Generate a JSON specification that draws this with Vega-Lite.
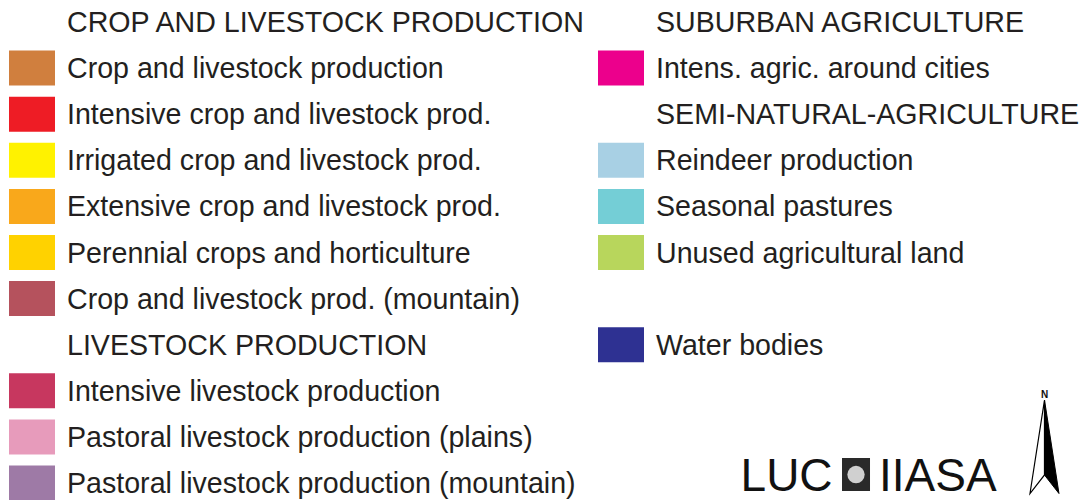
{
  "$schema": "https://vega.github.io/schema/vega-lite/v6.json",
  "width": 1090,
  "height": 500,
  "padding": 0,
  "autosize": {"type": "none"},
  "background": "white",
  "config": {"view": {"stroke": null}},
  "datasets": {
    "legend": [
      {"col": 0, "row": 0, "label": "CROP AND LIVESTOCK PRODUCTION", "color": null},
      {"col": 0, "row": 1, "label": "Crop and livestock production", "color": "#d07f3e"},
      {"col": 0, "row": 2, "label": "Intensive crop and livestock prod.", "color": "#ee1c25"},
      {"col": 0, "row": 3, "label": "Irrigated crop and livestock prod.", "color": "#fff200"},
      {"col": 0, "row": 4, "label": "Extensive crop and livestock prod.", "color": "#f9a81b"},
      {"col": 0, "row": 5, "label": "Perennial crops and horticulture", "color": "#ffd200"},
      {"col": 0, "row": 6, "label": "Crop and livestock prod. (mountain)", "color": "#b5525d"},
      {"col": 0, "row": 7, "label": "LIVESTOCK PRODUCTION", "color": null},
      {"col": 0, "row": 8, "label": "Intensive livestock production", "color": "#c7375f"},
      {"col": 0, "row": 9, "label": "Pastoral livestock production (plains)", "color": "#e79bbb"},
      {"col": 0, "row": 10, "label": "Pastoral livestock production (mountain)", "color": "#9e7aa6"},
      {"col": 1, "row": 0, "label": "SUBURBAN AGRICULTURE", "color": null},
      {"col": 1, "row": 1, "label": "Intens. agric. around cities", "color": "#ec008c"},
      {"col": 1, "row": 2, "label": "SEMI-NATURAL-AGRICULTURE", "color": null},
      {"col": 1, "row": 3, "label": "Reindeer production", "color": "#a8d0e4"},
      {"col": 1, "row": 4, "label": "Seasonal pastures", "color": "#74ced6"},
      {"col": 1, "row": 5, "label": "Unused agricultural land", "color": "#b8d65c"},
      {"col": 1, "row": 7, "label": "Water bodies", "color": "#2e3192"}
    ],
    "logo": [
      {"col": 1.203, "row": 10.174, "label": "LUC"},
      {"col": 1.438, "row": 10.174, "label": "IIASA"}
    ],
    "logobox": [
      {"col": 1.399, "row": 9.816}
    ],
    "arrow": [
      {"col": 1.719, "row": 9.2137}
    ],
    "north": [
      {"col": 1.719, "row": 8.091, "label": "N"}
    ]
  },
  "layer": [
    {
      "data": {"name": "legend"},
      "transform": [{"filter": "datum.color != null"}],
      "mark": {"type": "rect", "width": 46, "height": 35},
      "encoding": {
        "x": {"field": "col", "type": "quantitative", "scale": {"domain": [0, 1], "range": [32, 621], "zero": false, "nice": false}, "axis": null},
        "y": {"field": "row", "type": "quantitative", "scale": {"domain": [0, 10], "range": [22, 483], "zero": false, "nice": false}, "axis": null},
        "color": {"field": "color", "type": "nominal", "scale": null, "legend": null}
      }
    },
    {
      "data": {"name": "legend"},
      "mark": {"type": "text", "align": "left", "baseline": "alphabetic", "dx": 35, "dy": 10, "font": "Liberation Sans", "fontSize": 28.6, "fill": "#231f20"},
      "encoding": {
        "x": {"field": "col", "type": "quantitative", "scale": {"domain": [0, 1], "range": [32, 621], "zero": false, "nice": false}, "axis": null},
        "y": {"field": "row", "type": "quantitative", "scale": {"domain": [0, 10], "range": [22, 483], "zero": false, "nice": false}, "axis": null},
        "text": {"field": "label"}
      }
    },
    {
      "data": {"name": "logo"},
      "mark": {"type": "text", "align": "left", "baseline": "alphabetic", "font": "Liberation Sans", "fontSize": 46, "fill": "#111111"},
      "encoding": {
        "x": {"field": "col", "type": "quantitative", "scale": {"domain": [0, 1], "range": [32, 621], "zero": false, "nice": false}, "axis": null},
        "y": {"field": "row", "type": "quantitative", "scale": {"domain": [0, 10], "range": [22, 483], "zero": false, "nice": false}, "axis": null},
        "text": {"field": "label"}
      }
    },
    {
      "data": {"name": "logobox"},
      "mark": {"type": "rect", "width": 28, "height": 33, "fill": "#2a2a2a"},
      "encoding": {
        "x": {"field": "col", "type": "quantitative", "scale": {"domain": [0, 1], "range": [32, 621], "zero": false, "nice": false}, "axis": null},
        "y": {"field": "row", "type": "quantitative", "scale": {"domain": [0, 10], "range": [22, 483], "zero": false, "nice": false}, "axis": null}
      }
    },
    {
      "data": {"name": "logobox"},
      "mark": {"type": "point", "shape": "circle", "filled": true, "size": 300, "fill": "#d0d0d0", "opacity": 1},
      "encoding": {
        "x": {"field": "col", "type": "quantitative", "scale": {"domain": [0, 1], "range": [32, 621], "zero": false, "nice": false}, "axis": null},
        "y": {"field": "row", "type": "quantitative", "scale": {"domain": [0, 10], "range": [22, 483], "zero": false, "nice": false}, "axis": null}
      }
    },
    {
      "data": {"name": "arrow"},
      "mark": {"type": "point", "filled": true, "size": 8742, "shape": "M0,-1 L-0.31,1 L0,0.604 Z", "fill": "white", "stroke": "black", "strokeWidth": 1.2, "opacity": 1},
      "encoding": {
        "x": {"field": "col", "type": "quantitative", "scale": {"domain": [0, 1], "range": [32, 621], "zero": false, "nice": false}, "axis": null},
        "y": {"field": "row", "type": "quantitative", "scale": {"domain": [0, 10], "range": [22, 483], "zero": false, "nice": false}, "axis": null}
      }
    },
    {
      "data": {"name": "arrow"},
      "mark": {"type": "point", "filled": true, "size": 8742, "shape": "M0,-1 L0.31,1 L0,0.604 Z", "fill": "black", "stroke": "black", "strokeWidth": 1, "opacity": 1},
      "encoding": {
        "x": {"field": "col", "type": "quantitative", "scale": {"domain": [0, 1], "range": [32, 621], "zero": false, "nice": false}, "axis": null},
        "y": {"field": "row", "type": "quantitative", "scale": {"domain": [0, 10], "range": [22, 483], "zero": false, "nice": false}, "axis": null}
      }
    },
    {
      "data": {"name": "north"},
      "mark": {"type": "text", "align": "center", "baseline": "middle", "font": "Liberation Sans", "fontWeight": "bold", "fontSize": 10, "fill": "#111111"},
      "encoding": {
        "x": {"field": "col", "type": "quantitative", "scale": {"domain": [0, 1], "range": [32, 621], "zero": false, "nice": false}, "axis": null},
        "y": {"field": "row", "type": "quantitative", "scale": {"domain": [0, 10], "range": [22, 483], "zero": false, "nice": false}, "axis": null},
        "text": {"field": "label"}
      }
    }
  ]
}
